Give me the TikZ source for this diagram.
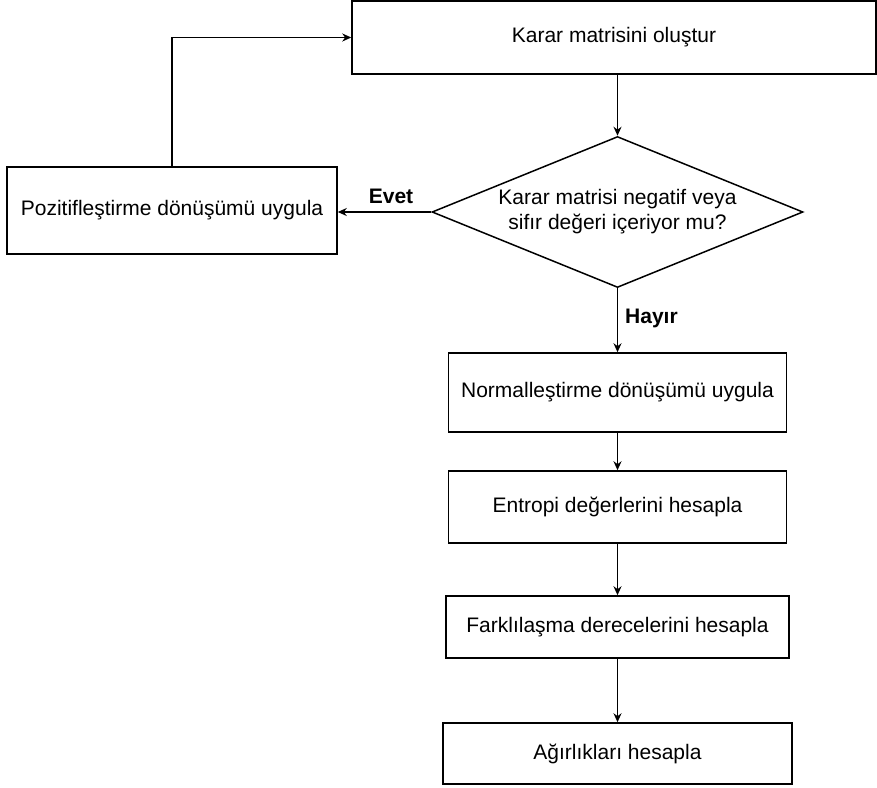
\documentclass[tikz,border=0pt]{standalone}
\usepackage{fontspec}
\setmainfont{Liberation Sans}
\usetikzlibrary{shapes.geometric,arrows.meta}

\begin{document}
\begin{tikzpicture}[x=1pt,y=-1pt]
\tikzstyle{every node}+=[inner sep=0pt,font=\fontsize{21}{25}\selectfont]
\tikzstyle{adim}=[draw=black,line width=1.5pt,rectangle,align=center]
\tikzstyle{soru}=[draw=black,line width=1.5pt,diamond,aspect=2.46,align=center,font=\fontsize{21}{30}\selectfont]
\tikzstyle{ok}=[black,line width=1.5pt,-{Stealth[length=9pt,width=8pt]}]
\tikzstyle{etiket}=[font=\fontsize{21}{25}\selectfont\bfseries]
\useasboundingbox (0,0) rectangle (877,787);
\node [adim,minimum width=524pt,minimum height=73pt] (olustur) at (614,37.5) {Karar matrisini oluştur};
\node [soru,minimum width=371pt,minimum height=151pt] (karar) at (617.5,212) {\raisebox{-4pt}{\shortstack{Karar matrisi negatif veya\\[2pt]sifır değeri içeriyor mu?}}};
\node [adim,minimum width=330pt,minimum height=87pt] (pozitif) at (172,210.5) {Pozitifleştirme dönüşümü uygula};
\node [adim,minimum width=338pt,minimum height=79pt] (normal) at (617.5,392.5) {Normalleştirme dönüşümü uygula};
\node [adim,minimum width=338pt,minimum height=72pt] (entropi) at (617.5,507) {Entropi değerlerini hesapla};
\node [adim,minimum width=343pt,minimum height=62pt] (fark) at (617.5,627) {Farklılaşma derecelerini hesapla};
\node [adim,minimum width=349pt,minimum height=61pt] (agirlik) at (617.5,753.5) {Ağırlıkları hesapla};
\node [etiket,anchor=base] (evet) at (391,203) {Evet};
\node [etiket,anchor=base west] (hayir) at (625,323) {Hayır};
\draw [ok] (olustur.south -| karar.north) -- (karar.north);
\draw [ok] (karar.west) -- (karar.west -| pozitif.east);
\draw [ok] (pozitif.north) |- (olustur.west);
\draw [ok] (karar.south) -- (normal.north);
\draw [ok] (normal.south) -- (entropi.north);
\draw [ok] (entropi.south) -- (fark.north);
\draw [ok] (fark.south) -- (agirlik.north);
\end{tikzpicture}
\end{document}
